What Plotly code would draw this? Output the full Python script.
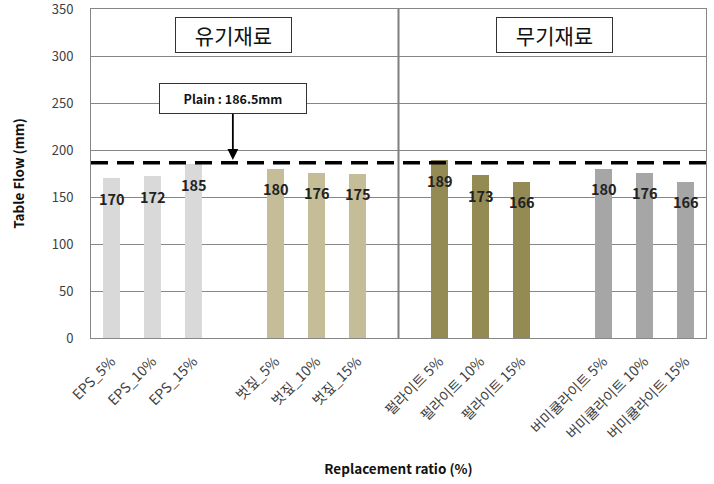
import plotly.graph_objects as go

categories = ["EPS_5%", "EPS_10%", "EPS_15%",
              "벗짚_5%", "벗짚_10%", "벗짚_15%",
              "펄라이트 5%", "펄라이트 10%", "펄라이트 15%",
              "버미큘라이트 5%", "버미큘라이트 10%", "버미큘라이트 15%"]
values = [170, 172, 185, 180, 176, 175, 189, 173, 166, 180, 176, 166]
group_colors = ["#D9D9D9", "#C4BD97", "#948A54", "#A6A6A6"]
plain_value = 186.5
y_ticks = [0, 50, 100, 150, 200, 250, 300, 350]

# slot positions: groups of three with one empty slot between groups
xpos = [i + i // 3 for i in range(len(categories))]
colors = [group_colors[i // 3] for i in range(len(categories))]

FONT = "Noto Sans CJK KR"

fig = go.Figure()
fig.add_trace(go.Bar(x=xpos, y=values, marker=dict(color=colors, line=dict(width=0)),
                     width=0.42, showlegend=False, hoverinfo="x+y"))

for x, v in zip(xpos, values):
    fig.add_annotation(x=x, y=v, text=str(v), showarrow=False, yanchor="middle",
                       yshift=-20, font=dict(family=FONT, size=14.5, color="#222222", weight="bold"))

# plain reference line
fig.add_shape(type="line", xref="paper", x0=0, x1=1, y0=plain_value, y1=plain_value,
              line=dict(color="black", width=3.5, dash="17px,9px"))
# divider between organic / inorganic
fig.add_shape(type="line", x0=7, x1=7, yref="paper", y0=0, y1=1,
              line=dict(color="#7F7F7F", width=2))

for xp, label in [(0.231, "유기재료"), (0.754, "무기재료")]:
    fig.add_annotation(xref="paper", yref="paper", x=xp, y=0.921, text=label,
                       xanchor="center", yanchor="middle",
                       showarrow=False, font=dict(family=FONT, size=21, color="#111111"),
                       bordercolor="#333333", borderwidth=1, bgcolor="white",
                       width=113, height=32, borderpad=1)
fig.add_annotation(x=2.96, y=189.5, text="Plain : 186.5mm", showarrow=True,
                   ax=0, ay=-61, arrowhead=2, arrowsize=1.2, arrowwidth=1.8, arrowcolor="black",
                   font=dict(family=FONT, size=12.5, color="#111111", weight="bold"),
                   bordercolor="#333333", borderwidth=1, bgcolor="white",
                   width=144, height=27, borderpad=1)

fig.update_layout(
    width=714, height=484,
    margin=dict(l=91, r=8, t=9, b=146),
    plot_bgcolor="white", paper_bgcolor="white",
    font=dict(family=FONT, color="#404040"),
    bargap=0,
)
fig.update_xaxes(range=[-0.5, 14.5], tickvals=xpos, ticktext=categories, tickangle=-45,
                 tickfont=dict(size=14, color="#404040"), showgrid=False,
                 showline=True, linecolor="#868686", linewidth=1, mirror=True,
                 ticks="", ticklabelstandoff=9, automargin=False,
                 title=dict(text="Replacement ratio (%)", standoff=22,
                            font=dict(size=13.5, color="#111111", weight="bold")))
fig.update_yaxes(range=[0, 350.05], tickvals=y_ticks, showgrid=True, gridcolor="#868686",
                 gridwidth=1, showline=True, linecolor="#868686", linewidth=1, mirror=True,
                 tickfont=dict(size=13, color="#404040"), ticklabelstandoff=14, zeroline=False,
                 ticklabeloverflow="allow", automargin=False,
                 title=dict(text="Table Flow (mm)", standoff=24,
                            font=dict(size=13.5, color="#111111", weight="bold")))

fig.write_html("out.html")
